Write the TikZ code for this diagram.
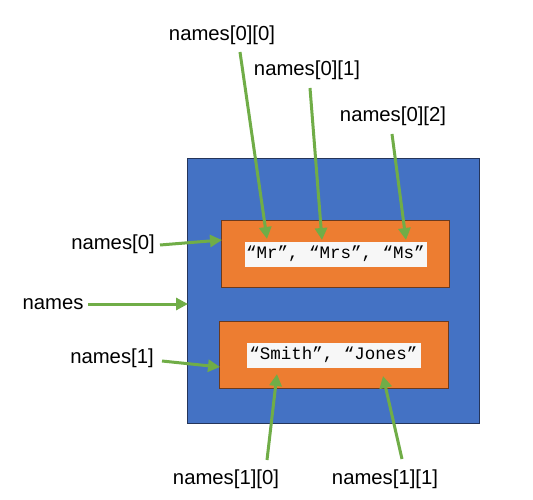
\documentclass[tikz,border=0pt]{standalone}
\usepackage{fontspec}
\setmainfont{Liberation Sans}
\setmonofont{Liberation Mono}
\usetikzlibrary{arrows.meta}
\definecolor{blu}{HTML}{4472C4}
\definecolor{navy}{HTML}{25355A}
\definecolor{org}{HTML}{ED7D31}
\definecolor{orgdark}{HTML}{6B3A1E}
\definecolor{grn}{HTML}{70AD47}
\definecolor{wbox}{HTML}{F7F7F7}
\begin{document}
\begin{tikzpicture}[x=1pt,y=-1pt,
  box/.style={anchor=north west, inner sep=0pt, line width=1pt},
  lbl/.style={font=\fontsize{20.3}{24}\selectfont, inner sep=0pt},
  code/.style={font=\fontsize{17.5}{20}\selectfont\ttfamily, inner sep=0pt},
  arr/.style={draw=grn, line width=3pt, -{Triangle[length=12pt,width=12pt]}}]
\useasboundingbox (0,0) rectangle (533,500);
\fill[white] (0,0) rectangle (533,500);
\node[box, draw=navy, fill=blu, minimum width=292pt, minimum height=265pt] (outer) at (187,158) {};
\node[box, draw=orgdark, fill=org, minimum width=228pt, minimum height=67pt] (row0) at (221,220) {};
\node[box, draw=orgdark, fill=org, minimum width=229pt, minimum height=67pt] (row1) at (219,321) {};
\node[box, fill=wbox, minimum width=182pt, minimum height=25pt] (w0) at (244,241) {};
\node[box, fill=wbox, minimum width=174pt, minimum height=25pt] (w1) at (246,342) {};
\node[code] (c0) at (w0.center) {“Mr”, “Mrs”, “Ms”};
\node[code] (c1) at (w1.center) {“Smith”, “Jones”};
\node[lbl] (l00) at (222,35) {names[0][0]};
\node[lbl] (l01) at (307,70) {names[0][1]};
\node[lbl] (l02) at (393,116) {names[0][2]};
\node[lbl] (l0) at (113,244) {names[0]};
\node[lbl] (ln) at (53,304) {names};
\node[lbl] (l1) at (112,358) {names[1]};
\node[lbl] (l10) at (226,479) {names[1][0]};
\node[lbl] (l11) at (385,479) {names[1][1]};
\coordinate (s00) at (240,52); \coordinate (t00) at (267,239);
\coordinate (s01) at (310,88); \coordinate (t01) at (322,240);
\coordinate (s02) at (392,134); \coordinate (t02) at (406,240);
\coordinate (s0) at (160,245); \coordinate (t0) at (222,240);
\coordinate (sn) at (88,304); \coordinate (tn) at (188,304);
\coordinate (s1) at (162,361); \coordinate (t1) at (220,367);
\coordinate (s10) at (267,460); \coordinate (t10) at (277,374);
\coordinate (s11) at (402,459); \coordinate (t11) at (383,376);
\draw[arr] (s00) -- (t00);
\draw[arr] (s01) -- (t01);
\draw[arr] (s02) -- (t02);
\draw[arr] (s0) -- (t0);
\draw[arr] (sn) -- (tn);
\draw[arr] (s1) -- (t1);
\draw[arr] (s10) -- (t10);
\draw[arr] (s11) -- (t11);
\end{tikzpicture}
\end{document}
